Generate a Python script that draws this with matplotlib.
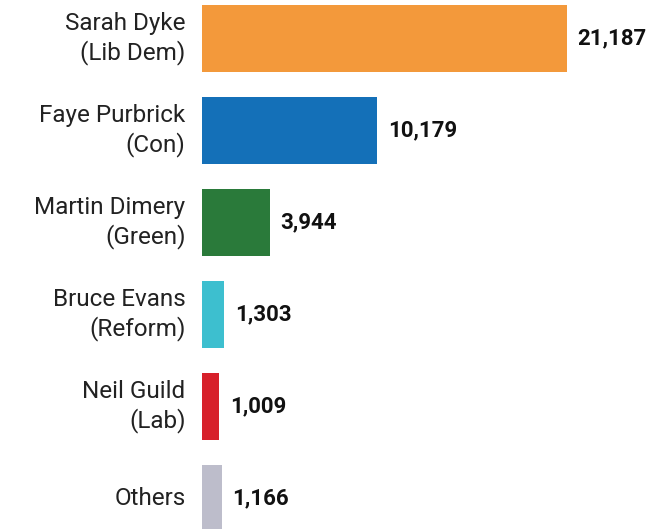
import matplotlib.pyplot as plt

# Datos
candidatos = ["Sarah Dyke\n(Lib Dem)", "Faye Purbrick\n(Con)", "Martin Dimery\n(Green)",
              "Bruce Evans\n(Reform)", "Neil Guild\n(Lab)", "Others"]
votos = [21187, 10179, 3944, 1303, 1009, 1166]
colores = ["#F3993B", "#1470B8", "#2A7A3A", "#3DBFCF", "#D7202A", "#BDBDCB"]

plt.rcParams['font.family'] = ['Roboto', 'DejaVu Sans']

fig = plt.figure(figsize=(6.64, 5.29), dpi=100)
ax = fig.add_axes([202 / 664, 0, 1 - 202 / 664, 1])

pos = list(range(len(votos)))
ax.barh(pos, votos, height=0.72, color=colores)

# Etiquetas de valores
for p, v in zip(pos, votos):
    ax.text(v + 600, p, f"{v:,}", va="center", ha="left",
            fontsize=16, fontweight="bold", color="#111111")

# Etiquetas de candidatos
for p, c in zip(pos, candidatos):
    ax.text(-960, p, c, va="center", ha="right", fontsize=17.5,
            color="#222222", linespacing=1.3)

ax.set_xlim(0, 462 / 0.01723)
ax.set_ylim(5.33, -0.418)
ax.axis("off")

fig.savefig("out.png", dpi=100)
